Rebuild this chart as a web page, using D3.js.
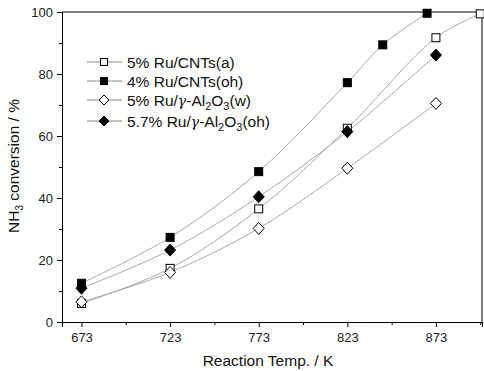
<!DOCTYPE html>
<html>
<head>
<meta charset="utf-8">
<script src="https://cdn.jsdelivr.net/npm/d3@7"></script>
<style>
  body { margin: 0; background: #fff; }
  svg { display: block; font-family: "Liberation Sans", Arial, sans-serif; }
</style>
</head>
<body>
<div id="chart"></div>
<script>
// values
const temps = [673, 723, 773, 823, 873];
const ruCntsA = [[673, 6.0], [723, 17.3], [773, 36.5], [823, 62.5], [873, 91.7], [898, 99.4]];
const ruCntsOh = [[673, 12.5], [723, 27.3], [773, 48.5], [823, 77.2], [843, 89.4], [868, 99.6]];
const ruAlW = [[673, 6.5], [723, 16.0], [773, 30.2], [823, 49.6], [873, 70.5]];
const ruAlOh = [[673, 10.9], [723, 23.2], [773, 40.4], [823, 61.4], [873, 86.1]];
const yTicks = [0, 20, 40, 60, 80, 100];

const width = 484, height = 371;
const m = { left: 62, right: 2, top: 12, bottom: 49 };

const svg = d3.select('#chart').append('svg')
    .attr('width', width)
    .attr('height', height);

const x = d3.scaleLinear().domain([662, 899]).range([m.left, width - m.right]);
const y = d3.scaleLinear().domain([0, 100]).range([height - m.bottom, m.top]);

const series = [
    { data: ruCntsA, shape: 'square', filled: false },
    { data: ruCntsOh, shape: 'square', filled: true },
    { data: ruAlW, shape: 'diamond', filled: false },
    { data: ruAlOh, shape: 'diamond', filled: true },
];

function marker(g, shape, filled) {
    if (shape === 'square') {
        g.append('rect')
            .attr('x', -4).attr('y', -4).attr('width', 8).attr('height', 8)
            .attr('fill', filled ? '#000' : '#fff')
            .attr('stroke', '#000').attr('stroke-width', 1);
    } else {
        g.append('path')
            .attr('d', 'M0,-6L5.5,0L0,6L-5.5,0Z')
            .attr('fill', filled ? '#000' : '#fff')
            .attr('stroke', '#000').attr('stroke-width', 1);
    }
}

// axes
const xAxis = d3.axisBottom(x).tickValues(temps).tickSize(5).tickPadding(6).tickFormat(d3.format('d'));
const xMinor = d3.axisBottom(x).tickValues([698, 748, 798, 848, 898]).tickSize(3).tickFormat('');
const yAxis = d3.axisLeft(y).tickValues(yTicks).tickSize(5).tickPadding(4);
const yMinor = d3.axisLeft(y).tickValues([10, 30, 50, 70, 90]).tickSize(3).tickFormat('');

const gx = svg.append('g').attr('transform', `translate(0,${height - m.bottom})`);
gx.call(xAxis);
gx.append('g').call(xMinor);
const gy = svg.append('g').attr('transform', `translate(${m.left},0)`);
gy.call(yAxis);
gy.append('g').call(yMinor);

svg.selectAll('.domain').attr('stroke', '#000');
svg.selectAll('.tick line').attr('stroke', '#000');
svg.selectAll('.tick text').attr('font-size', 13).attr('fill', '#222')
    .attr('font-family', '"Liberation Sans", Arial, sans-serif');

// frame top & right
svg.append('line')
    .attr('x1', m.left).attr('x2', width - m.right)
    .attr('y1', m.top).attr('y2', m.top)
    .attr('stroke', '#000');
svg.append('line')
    .attr('x1', width - m.right).attr('x2', width - m.right)
    .attr('y1', m.top).attr('y2', height - m.bottom)
    .attr('stroke', '#000');

// lines + markers
const line = d3.line()
    .x(d => x(d[0]))
    .y(d => y(d[1]))
    .curve(d3.curveCatmullRom);

series.forEach(s => {
    svg.append('path')
        .attr('d', line(s.data))
        .attr('fill', 'none')
        .attr('stroke', '#aaa')
        .attr('stroke-width', 1);
});
series.forEach(s => {
    s.data.forEach(d => {
        const g = svg.append('g').attr('transform', `translate(${x(d[0])},${y(d[1])})`);
        marker(g, s.shape, s.filled);
    });
});

// legend
const legendRows = [62, 81, 100, 121];
const legendLabels = [
    [['5% Ru/CNTs(a)']],
    [['4% Ru/CNTs(oh)']],
    [['5% Ru/'], ['γ', 'sym'], ['-Al'], ['2', 'sub'], ['O'], ['3', 'sub'], ['(w)']],
    [['5.7% Ru/'], ['γ', 'sym'], ['-Al'], ['2', 'sub'], ['O'], ['3', 'sub'], ['(oh)']],
];
series.forEach((s, i) => {
    const ly = legendRows[i];
    svg.append('line')
        .attr('x1', 87).attr('x2', 122)
        .attr('y1', ly).attr('y2', ly)
        .attr('stroke', '#888');
    const g = svg.append('g').attr('transform', `translate(104,${ly})`);
    if (s.shape === 'square') {
        g.append('rect')
            .attr('x', -3.5).attr('y', -3.5).attr('width', 7).attr('height', 7)
            .attr('fill', s.filled ? '#000' : '#fff')
            .attr('stroke', '#000');
    } else {
        g.append('path')
            .attr('d', 'M0,-5L5,0L0,5L-5,0Z')
            .attr('fill', s.filled ? '#000' : '#fff')
            .attr('stroke', '#000');
    }
    const t = svg.append('text')
        .attr('x', 127).attr('y', ly + 5.5)
        .attr('font-size', 15.5).attr('fill', '#111');
    legendLabels[i].forEach(p => {
        const ts = t.append('tspan').text(p[0]);
        if (p[1] === 'sub') ts.attr('font-size', 11).attr('dy', 4);
        if (p[1] === 'sym') ts.attr('font-family', '"DejaVu Serif", serif').attr('font-style', 'italic').attr('font-size', 14);
        if (p[1] === undefined && i > 1 && (p[0] === 'O' || p[0] === '(w)' || p[0] === '(oh)')) ts.attr('dy', -4);
    });
});

// axis titles
svg.append('text')
    .attr('x', 268).attr('y', 366)
    .attr('text-anchor', 'middle')
    .attr('font-size', 15.5).attr('fill', '#111')
    .text('Reaction Temp. / K');

const yt = svg.append('text')
    .attr('transform', 'translate(19,166) rotate(-90)')
    .attr('text-anchor', 'middle')
    .attr('font-size', 15.5).attr('fill', '#111');
yt.append('tspan').text('NH');
yt.append('tspan').text('3').attr('font-size', 10).attr('dy', 4);
yt.append('tspan').text(' conversion / %').attr('dy', -4);
</script>
</body>
</html>
